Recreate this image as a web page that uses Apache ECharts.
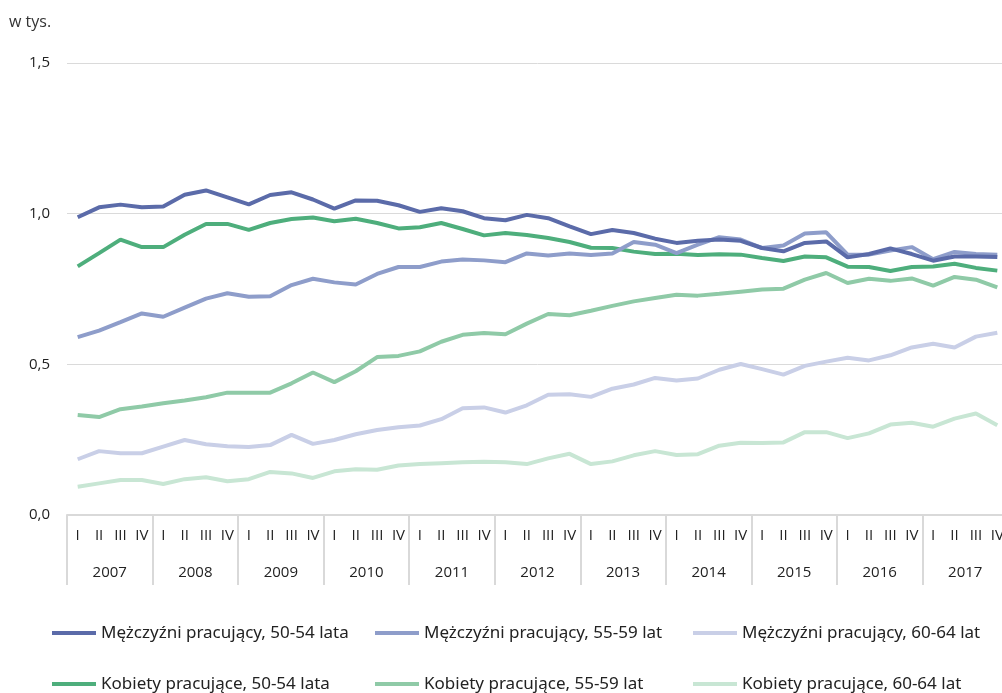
<!DOCTYPE html>
<html>
<head>
<meta charset="utf-8">
<script src="https://cdn.jsdelivr.net/npm/echarts@6/dist/echarts.min.js"></script>
<style>
  html, body { margin: 0; padding: 0; background: #fff; overflow: hidden; }
  #chart { width: 1008px; height: 693px; }
</style>
</head>
<body>
<div id="chart"></div>
<script>
// kwartały i lata
const years = ['2007','2008','2009','2010','2011','2012','2013','2014','2015','2016','2017'];
const quarterNames = ['I','II','III','IV'];

const menA = [0.988,1.021,1.030,1.021,1.024,1.063,1.077,1.054,1.031,1.062,1.071,1.047,1.017,1.044,1.043,
  1.028,1.006,1.018,1.008,0.985,0.978,0.996,0.985,0.958,0.932,0.946,0.936,0.917,0.903,
  0.910,0.914,0.910,0.886,0.875,0.903,0.908,0.855,0.866,0.885,0.866,0.844,0.858,0.858,0.856];
const menB = [0.590,0.612,0.640,0.669,0.658,0.688,0.718,0.736,0.724,0.726,0.763,0.784,0.772,0.765,0.800,
  0.823,0.823,0.841,0.848,0.845,0.839,0.868,0.861,0.868,0.863,0.868,0.906,0.897,0.869,
  0.897,0.922,0.914,0.886,0.894,0.934,0.938,0.864,0.864,0.878,0.889,0.849,0.873,0.866,0.864];
const menC = [0.185,0.212,0.205,0.205,0.227,0.249,0.235,0.228,0.226,0.232,0.266,0.236,0.249,0.268,0.282,
  0.291,0.297,0.318,0.354,0.357,0.340,0.364,0.399,0.401,0.392,0.419,0.433,0.455,0.446,
  0.453,0.482,0.501,0.484,0.466,0.495,0.509,0.522,0.513,0.530,0.556,0.568,0.556,0.592,0.605];
const womenA = [0.825,0.869,0.914,0.889,0.889,0.930,0.966,0.966,0.946,0.969,0.982,0.987,0.975,0.983,0.969,
  0.951,0.955,0.969,0.949,0.928,0.936,0.929,0.919,0.906,0.887,0.886,0.874,0.866,0.867,
  0.863,0.865,0.864,0.853,0.843,0.858,0.855,0.824,0.823,0.810,0.823,0.825,0.834,0.820,0.811];
const womenB = [0.332,0.325,0.351,0.360,0.371,0.380,0.391,0.406,0.406,0.406,0.437,0.473,0.441,0.477,0.524,
  0.528,0.543,0.575,0.598,0.604,0.600,0.635,0.667,0.663,0.678,0.694,0.709,0.720,0.731,
  0.728,0.734,0.741,0.748,0.751,0.781,0.803,0.770,0.784,0.777,0.785,0.761,0.790,0.781,0.755];
const womenC = [0.094,0.105,0.116,0.116,0.103,0.119,0.125,0.112,0.119,0.143,0.138,0.123,0.145,0.152,0.150,
  0.164,0.169,0.172,0.175,0.177,0.175,0.169,0.188,0.203,0.169,0.178,0.198,0.212,0.199,
  0.202,0.230,0.240,0.239,0.241,0.275,0.275,0.255,0.271,0.300,0.306,0.293,0.320,0.337,0.298];

const seriesNames = [
  'Mężczyźni pracujący, 50-54 lata','Mężczyźni pracujący, 55-59 lat','Mężczyźni pracujący, 60-64 lat',
  'Kobiety pracujące, 50-54 lata','Kobiety pracujące, 55-59 lat','Kobiety pracujące, 60-64 lat'
];
const seriesData = [menA, menB, menC, womenA, womenB, womenC];
const colors = ['#5b6ba9','#8e9dca','#c9cfe7','#4eae7c','#8fcaa7','#c8e6d4'];

const quarters = [];
years.forEach(y => quarterNames.forEach(q => quarters.push(y + ' ' + q)));

const font = "'Noto Sans', 'Open Sans', sans-serif";
const axisFont = "'Open Sans', 'Noto Sans', sans-serif";
const myChart = echarts.init(document.getElementById('chart'));

// legenda: 3 kolumny x 2 wiersze
const legendLeft = [52, 375, 693];
const legendTop = [622, 673];
const legends = seriesNames.map((name, i) => ({
  data: [name],
  left: legendLeft[i % 3],
  top: legendTop[Math.floor(i / 3)],
  padding: 0,
  icon: 'rect',
  itemWidth: 44,
  itemHeight: 4,
  textStyle: { fontFamily: font, fontSize: 17, color: '#222', lineHeight: 22 }
}));

myChart.setOption({
  animation: false,
  color: colors,
  title: {
    text: 'w tys.',
    left: 4,
    top: 9,
    textStyle: { fontFamily: axisFont, fontSize: 16, fontWeight: 'normal', color: '#333' }
  },
  legend: legends,
  grid: { left: 67, right: 0, top: 63, bottom: 178 },
  xAxis: [
    {
      type: 'category',
      data: quarters,
      boundaryGap: true,
      axisLine: { lineStyle: { color: '#d9d9d9', width: 2 } },
      axisTick: { show: false },
      axisLabel: {
        interval: 0,
        margin: 13,
        fontFamily: axisFont,
        fontSize: 15,
        color: '#222',
        formatter: v => v.split(' ')[1]
      }
    },
    {
      type: 'category',
      data: years,
      position: 'bottom',
      boundaryGap: true,
      axisLine: { show: false },
      axisTick: { show: true, length: 70, lineStyle: { color: '#d9d9d9', width: 2 } },
      axisLabel: { interval: 0, margin: 50, fontFamily: axisFont, fontSize: 15, color: '#222' }
    }
  ],
  yAxis: {
    type: 'value',
    min: 0,
    max: 1.5,
    interval: 0.5,
    axisLine: { show: false },
    axisTick: { show: false },
    splitLine: { lineStyle: { color: '#dadada', width: 1 } },
    axisLabel: {
      margin: 17,
      fontFamily: axisFont,
      fontSize: 15,
      color: '#222',
      formatter: v => v.toFixed(1).replace('.', ',')
    }
  },
  series: seriesData.map((d, i) => ({
    name: seriesNames[i],
    type: 'line',
    xAxisIndex: 0,
    data: d,
    symbol: 'none',
    lineStyle: { width: 4 },
    z: 10 - i
  }))
});
</script>
</body>
</html>
